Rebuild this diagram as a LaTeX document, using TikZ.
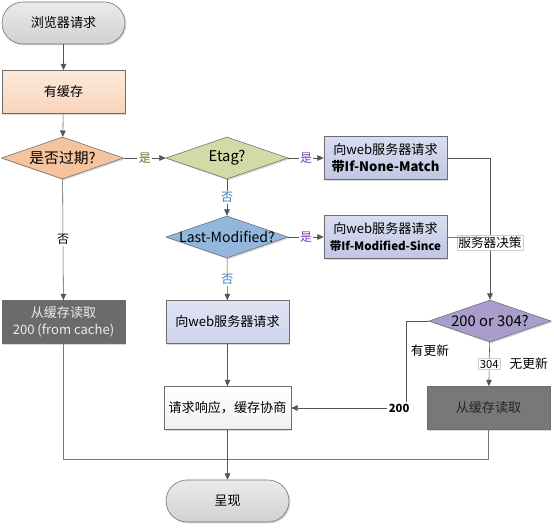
\documentclass[tikz,border=0pt]{standalone}
\usepackage{fontspec}
\setmainfont{Noto Sans CJK SC}
\usetikzlibrary{shapes.geometric, arrows.meta, shadows}

\definecolor{lineGray}{HTML}{555555}
\definecolor{edgeGray}{HTML}{6E6E6E}
\definecolor{tagOlive}{HTML}{6B7A22}
\definecolor{tagPurple}{HTML}{7A3DB8}
\definecolor{tagBlue}{HTML}{3A7CC0}
\definecolor{peachTop}{HTML}{FDEADB}
\definecolor{peachBottom}{HTML}{F8D3BA}
\definecolor{expiredFill}{HTML}{F5C39E}
\definecolor{etagFill}{HTML}{D3DAA8}
\definecolor{lastModFill}{HTML}{93B7DC}
\definecolor{condTop}{HTML}{D9DDF0}
\definecolor{condBottom}{HTML}{C0C7E3}
\definecolor{reqTop}{HTML}{E0E4F4}
\definecolor{reqBottom}{HTML}{CDD3EC}
\definecolor{decideFill}{HTML}{A89DCB}

\tikzset{
    softshadow/.style={drop shadow={opacity=0.3, shadow xshift=1pt, shadow yshift=-1pt}},
    box/.style={rectangle, draw=edgeGray, minimum width=3.075cm, minimum height=1.08cm,
        align=center, font=\fontsize{9.3}{12}\selectfont, softshadow},
    terminal/.style={box, rounded corners=0.525cm, minimum height=1.05cm,
        top color=gray!16, bottom color=gray!36},
    decision/.style={diamond, draw=edgeGray, minimum width=3.05cm, minimum height=1.05cm,
        inner sep=0pt, softshadow},
    link/.style={draw=lineGray, -{Triangle[width=4pt, length=4.5pt]}},
    plain/.style={draw=lineGray!80},
    tag/.style={fill=white, inner sep=1pt, font=\fontsize{8.5}{10}\selectfont},
}

\begin{document}
\begin{tikzpicture}[x=0.025cm, y=-0.025cm]
    \useasboundingbox (0, 0) rectangle (554, 528);

    % Left column: start and cache check
    \node[terminal] (start) at (63.5, 23) {浏览器请求};
    \node[box, top color=peachTop, bottom color=peachBottom] (hasCache) at (63.5, 92) {有缓存};
    \node[decision, fill=expiredFill, label={[font=\fontsize{10.5}{12}\selectfont]center:是否过期?}] (expired) at (62.5, 158) {};
    \node[box, fill=black!58, text=black!8] (cacheL) at (63.5, 322) {从缓存读取\\200 (from cache)};

    % Middle column: validators
    \node[decision, fill=etagFill, label={[font=\fontsize{10.5}{12}\selectfont]center:Etag?}] (etag) at (227, 158) {};
    \node[decision, fill=lastModFill, label={[font=\fontsize{10}{12}\selectfont]center:Last-Modified?}] (lastMod) at (227, 237) {};
    \node[box, top color=reqTop, bottom color=reqBottom] (request) at (227.5, 322) {向web服务器请求};
    \node[box, top color=white, bottom color=gray!12] (response) at (227.5, 408) {请求响应，缓存协商};
    \node[terminal] (show) at (227.5, 501) {呈现};

    % Right column: conditional requests
    \node[box, top color=condTop, bottom color=condBottom] (noneMatch) at (385.5, 158) {向web服务器请求\\\bfseries 带If-None-Match};
    \node[box, top color=condTop, bottom color=condBottom] (modSince) at (385.5, 237) {向web服务器请求\\\bfseries\fontsize{8.2}{12}\selectfont 带If-Modified-Since};
    \node[decision, fill=decideFill, label={[font=\fontsize{10.5}{12}\selectfont]center:200 or 304?}] (decide) at (490, 321) {};
    \node[box, fill=black!53, text=black!85] (cacheR) at (488.5, 408) {从缓存读取};

    % Joins
    \coordinate (bend200) at (406, 321);
    \coordinate (merge) at (227.5, 459);

    % Connectors
    \draw[link] (start) -- (hasCache);
    \draw[link] (hasCache) -- (expired);
    \draw[link] (expired) -- node[tag, text=tagOlive] {是} (etag);
    \draw[link] (expired) -- node[tag] {否} (cacheL);
    \draw[link] (etag) -- node[tag, text=tagPurple] {是} (noneMatch);
    \draw[link] (etag) -- node[tag, text=tagBlue] {否} (lastMod);
    \draw[link] (lastMod) -- node[tag, text=tagPurple] {是} (modSince);
    \draw[link] (lastMod) -- node[tag, text=tagBlue] {否} (request);
    \draw[link] (noneMatch.east) -| node[tag, draw=gray!40, pos=0.8, font=\fontsize{9}{10}\selectfont] {服务器决策} (decide.north);
    \draw[plain] (modSince.east) -- (modSince.east -| decide.north);
    \draw[link] (decide.west) -- (bend200) |- node[pos=0.17, right, font=\fontsize{9}{10}\selectfont] {有更新}
        node[tag, pos=0.53, font=\bfseries\fontsize{8}{9}\selectfont] {200} (response.east);
    \draw[link] (decide) -- node[tag, draw=gray!40, font=\fontsize{8}{9}\selectfont] {304}
        node[right=11pt, font=\fontsize{9}{10}\selectfont] {无更新} (cacheR);
    \draw[link] (request) -- (response);
    \draw[plain] (cacheL.south) |- (merge);
    \draw[plain] (cacheR.south) |- (merge);
    \draw[link] (response) -- (show);
\end{tikzpicture}
\end{document}
